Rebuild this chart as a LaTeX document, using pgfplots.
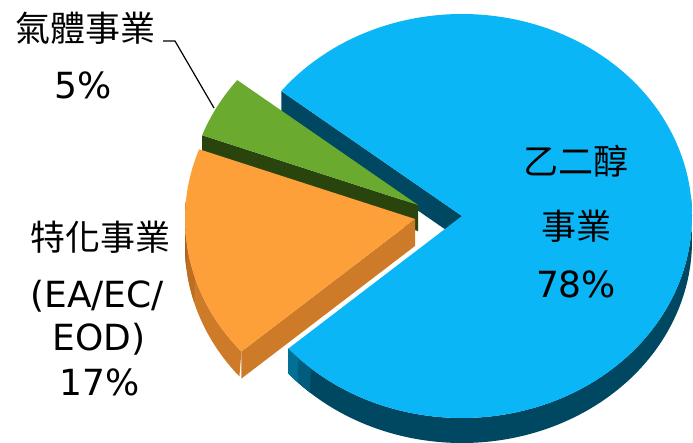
\documentclass[border=0pt]{standalone}
\usepackage{fontspec}
\setmainfont{DejaVu Sans}
\newfontfamily\cjk{Noto Sans CJK TC}
\usepackage{pgfplots}
\pgfplotsset{compat=1.18}
\definecolor{bluetop}{RGB}{10,182,245}
\definecolor{blueside}{RGB}{0,72,98}
\definecolor{bluemid}{RGB}{0,92,125}
\definecolor{bluelight}{RGB}{0,112,150}
\definecolor{orangetop}{RGB}{254,160,58}
\definecolor{orangeside}{RGB}{205,123,40}
\definecolor{orangemid}{RGB}{188,110,34}
\definecolor{orangedark}{RGB}{168,97,30}
\definecolor{greentop}{RGB}{106,170,46}
\definecolor{greenside}{RGB}{42,68,14}
% shares in percent
\def\vBlue{78}%
\def\vGreen{5}%
\def\vOrange{17}%
\pgfmathsetmacro{\start}{221}%
\pgfmathsetmacro{\bEnd}{\start+\vBlue*3.6}%
\pgfmathsetmacro{\gEnd}{\bEnd+\vGreen*3.6}%
\pgfmathsetmacro{\oEnd}{\gEnd+\vOrange*3.6}%
% face corners
\pgfmathsetmacro{\bfx}{462+230*cos(\bEnd)}%
\pgfmathsetmacro{\bfy}{216-202*sin(\bEnd)}%
\pgfmathsetmacro{\bfyb}{\bfy+25}%
\pgfmathsetmacro{\gfx}{418+230*cos(\gEnd)}%
\pgfmathsetmacro{\gfy}{205-202*sin(\gEnd)}%
\pgfmathsetmacro{\gfyb}{\gfy+26}%
\pgfmathsetmacro{\ofx}{415+230*cos(\oEnd)}%
\pgfmathsetmacro{\ofy}{219-202*sin(\oEnd)}%
\pgfmathsetmacro{\ofyb}{\ofy+27}%
\begin{document}%
\begin{tikzpicture}
\begin{axis}[width=693bp, height=443bp, scale only axis,
  xmin=0, xmax=693, ymin=0, ymax=443, y dir=reverse,
  hide axis, clip=false]
\addplot[draw=none] coordinates {(0,0) (693,443)};
% ---- blue slice: rim (with light band at its left end), face, top ----
\addplot[draw=none, fill=blueside, domain=0:2, samples=301]
  ({462+230*cos(\start+(365-\start)*(1-abs(1-x)))},
   {216-202*sin(\start+(365-\start)*(1-abs(1-x)))+25*(x>1)}) -- cycle;
\addplot[draw=none, fill=bluemid, domain=0:2, samples=41]
  ({462+230*cos(\start+8*(1-abs(1-x)))},
   {216-202*sin(\start+8*(1-abs(1-x)))+25*(x>1)}) -- cycle;
\addplot[draw=none, fill=bluelight, domain=0:2, samples=41]
  ({462+230*cos(\start+3.5*(1-abs(1-x)))},
   {216-202*sin(\start+3.5*(1-abs(1-x)))+25*(x>1)}) -- cycle;
\addplot[fill=blueside, draw=none] coordinates {(462,216) (\bfx,\bfy) (\bfx,\bfyb) (462,241)} -- cycle;
\addplot[fill=bluetop, draw=none, domain=\start:\bEnd, samples=300]
  ({462+230*cos(x)},{216-202*sin(x)}) -- (axis cs:462,216) -- cycle;
% ---- green slice ----
\addplot[fill=greenside, draw=none] coordinates {(418,205) (\gfx,\gfy) (\gfx,\gfyb) (418,231)} -- cycle;
\addplot[fill=greentop, draw=none, domain=\bEnd:\gEnd, samples=40]
  ({418+230*cos(x)},{205-202*sin(x)}) -- (axis cs:418,205) -- cycle;
% ---- orange slice ----
\addplot[draw=none, fill=orangeside, domain=0:2, samples=121]
  ({415+230*cos(535+(\oEnd-535)*(1-abs(1-x)))},
   {219-202*sin(535+(\oEnd-535)*(1-abs(1-x)))+27*(x>1)}) -- cycle;
\addplot[draw=none, fill=orangemid, domain=0:2, samples=61]
  ({415+230*cos(535+22*(1-abs(1-x)))},
   {219-202*sin(535+22*(1-abs(1-x)))+27*(x>1)}) -- cycle;
\addplot[draw=none, fill=orangedark, domain=0:2, samples=61]
  ({415+230*cos(535+12*(1-abs(1-x)))},
   {219-202*sin(535+12*(1-abs(1-x)))+27*(x>1)}) -- cycle;
\addplot[fill=orangeside, draw=none] coordinates {(415,219) (\ofx,\ofy) (\ofx,\ofyb) (415,246)} -- cycle;
\addplot[fill=orangetop, draw=none, domain=\gEnd:\oEnd, samples=100]
  ({415+230*cos(x)},{219-202*sin(x)}) -- (axis cs:415,219) -- cycle;
% ---- leader line ----
\addplot[black, line width=1.2pt] coordinates {(163,41) (175,41) (214,108)};
% ---- labels ----
\node[font=\cjk\fontsize{35bp}{40bp}\selectfont] at (axis cs:85,28) {氣體事業};
\node[font=\fontsize{36bp}{40bp}\selectfont, anchor=base] at (axis cs:83,98) {5\%};
\node[font=\cjk\fontsize{35bp}{40bp}\selectfont] at (axis cs:100,237) {特化事業};
\node[font=\fontsize{36bp}{40bp}\selectfont, anchor=base] at (axis cs:97,307) {(EA/EC/};
\node[font=\fontsize{36bp}{40bp}\selectfont, anchor=base] at (axis cs:99,350) {EOD)};
\node[font=\fontsize{36bp}{40bp}\selectfont, anchor=base] at (axis cs:100,395) {17\%};
\node[font=\cjk\fontsize{35bp}{40bp}\selectfont] at (axis cs:576,161) {乙二醇};
\node[font=\cjk\fontsize{35bp}{40bp}\selectfont] at (axis cs:576,226) {事業};
\node[font=\fontsize{36bp}{40bp}\selectfont, anchor=base] at (axis cs:576,297) {78\%};
\end{axis}
\end{tikzpicture}%
\end{document}
